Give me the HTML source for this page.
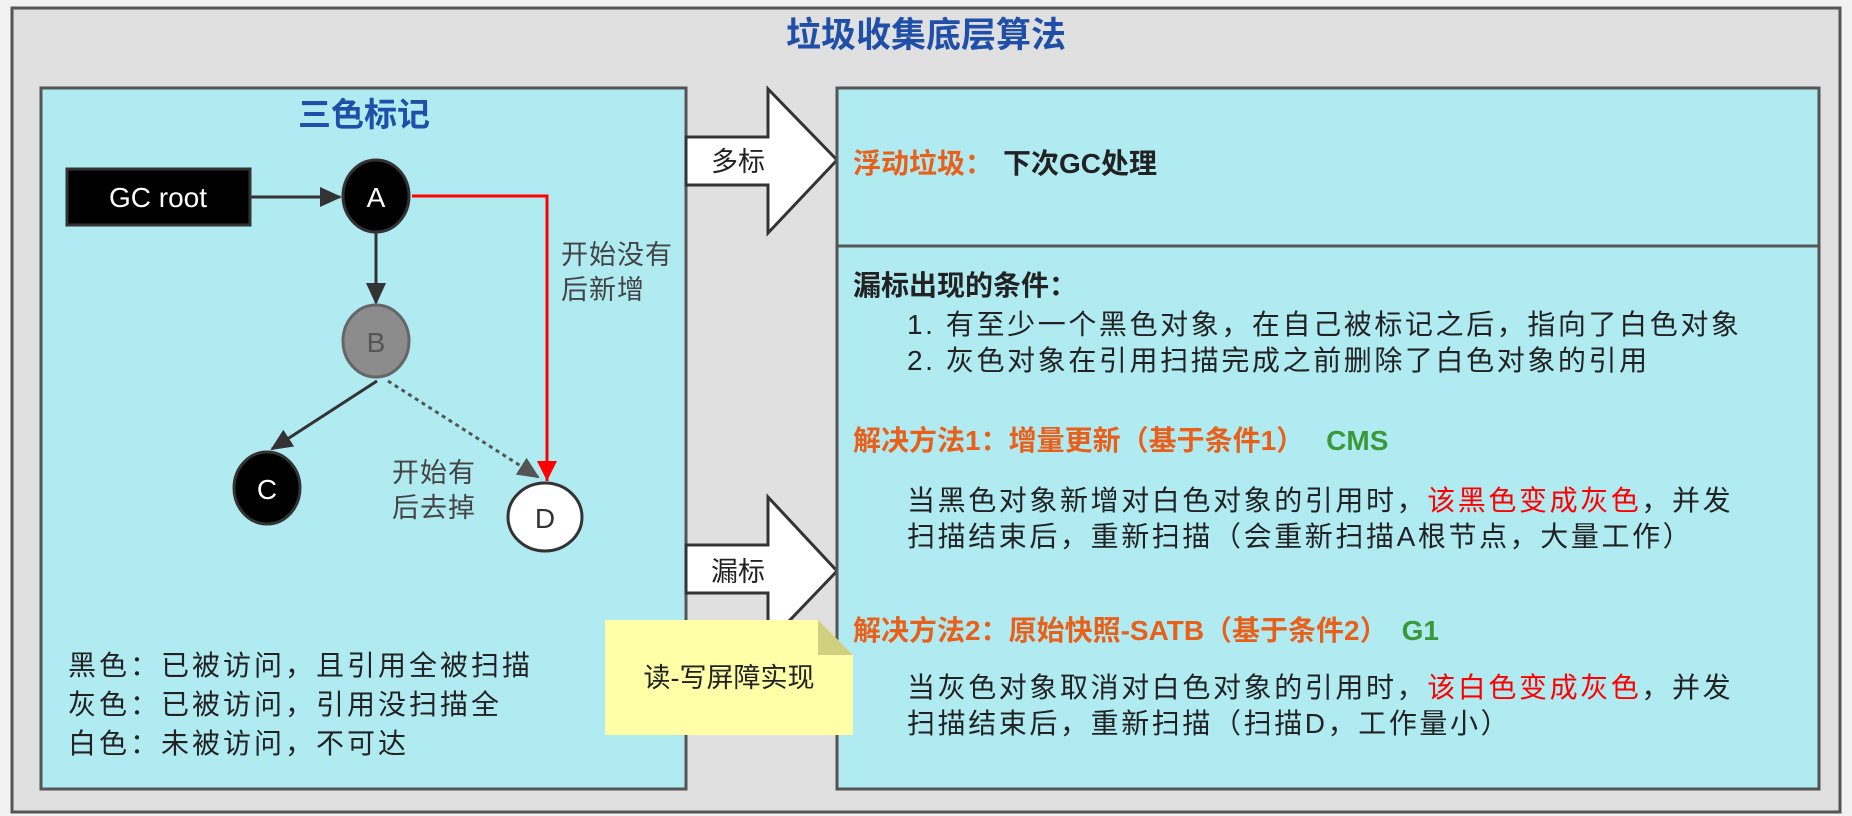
<!DOCTYPE html>
<html><head><meta charset="utf-8">
<style>
html,body{margin:0;padding:0;background:#f2f2f2;}
svg{display:block;}
text{font-family:"Liberation Sans","Noto Sans CJK SC",sans-serif;}
</style></head>
<body>
<svg width="1852" height="816" viewBox="0 0 1852 816" xmlns="http://www.w3.org/2000/svg">
<defs>
<marker id="ahb" markerWidth="22" markerHeight="20" refX="20" refY="10" orient="auto" markerUnits="userSpaceOnUse" viewBox="0 0 22 20">
<path d="M0,0 L22,10 L0,20 z" fill="#333"/></marker>
<marker id="ahg" markerWidth="22" markerHeight="20" refX="20" refY="10" orient="auto" markerUnits="userSpaceOnUse" viewBox="0 0 22 20">
<path d="M0,0 L22,10 L0,20 z" fill="#555"/></marker>
<marker id="ahrb" markerWidth="20" markerHeight="24" refX="20" refY="10" orient="auto" markerUnits="userSpaceOnUse" viewBox="0 0 20 20">
<path d="M0,0 L20,10 L0,20 z" fill="#ff0000"/></marker>
</defs>
<rect x="12" y="8" width="1828" height="804" fill="#e0e0e0" stroke="#555" stroke-width="3"/>
<text x="926" y="47" font-size="35" font-weight="bold" fill="#1f4fa8" text-anchor="middle">垃圾收集底层算法</text>

<rect x="41" y="88" width="645" height="701" fill="#b0ebf2" stroke="#555" stroke-width="3"/>
<text x="364" y="126" font-size="33" font-weight="bold" fill="#1f4fa8" text-anchor="middle">三色标记</text>

<rect x="67" y="169" width="183" height="56" fill="#000" stroke="#333" stroke-width="3"/>
<text x="158" y="207" font-size="28" fill="#fff" text-anchor="middle">GC root</text>

<line x1="250" y1="197" x2="340" y2="197" stroke="#333" stroke-width="3" marker-end="url(#ahb)"/>
<line x1="376" y1="233" x2="376" y2="303" stroke="#333" stroke-width="3" marker-end="url(#ahb)"/>
<line x1="377" y1="381" x2="272" y2="449" stroke="#333" stroke-width="3" marker-end="url(#ahb)"/>
<line x1="388" y1="381" x2="538" y2="477" stroke="#555" stroke-width="3" stroke-dasharray="4,4" marker-end="url(#ahg)"/>
<polyline points="412,196 547,196 547,481" fill="none" stroke="#ff0000" stroke-width="3" marker-end="url(#ahrb)"/>

<ellipse cx="376" cy="196" rx="33" ry="36" fill="#000" stroke="#333" stroke-width="3"/>
<text x="376" y="207" font-size="28" fill="#fff" text-anchor="middle">A</text>
<ellipse cx="376" cy="341" rx="33" ry="36" fill="#8c8c8c" stroke="#666" stroke-width="3"/>
<text x="376" y="352" font-size="28" fill="#555" text-anchor="middle">B</text>
<ellipse cx="267" cy="488" rx="33" ry="36" fill="#000" stroke="#333" stroke-width="3"/>
<text x="267" y="499" font-size="28" fill="#fff" text-anchor="middle">C</text>
<ellipse cx="545" cy="517" rx="37" ry="34" fill="#fff" stroke="#333" stroke-width="3"/>
<text x="545" y="528" font-size="28" fill="#333" text-anchor="middle">D</text>

<g font-size="27" fill="#444" letter-spacing="1">
<text x="561" y="264">开始没有</text>
<text x="561" y="299">后新增</text>
<text x="392" y="482">开始有</text>
<text x="392" y="517">后去掉</text>
</g>
<g font-size="28" fill="#222" letter-spacing="3">
<text x="68" y="675">黑色：已被访问，且引用全被扫描</text>
<text x="68" y="714">灰色：已被访问，引用没扫描全</text>
<text x="68" y="753">白色：未被访问，不可达</text>
</g>

<path d="M686,137 L768,137 L768,89 L837,160 L768,233 L768,185 L686,185 Z" fill="#fff" stroke="#333" stroke-width="3"/>
<text x="738" y="171" font-size="27" fill="#222" text-anchor="middle">多标</text>
<path d="M686,545 L768,545 L768,497 L837,571 L768,643 L768,593 L686,593 Z" fill="#fff" stroke="#333" stroke-width="3"/>
<text x="738" y="581" font-size="27" fill="#222" text-anchor="middle">漏标</text>

<rect x="837" y="88" width="982" height="701" fill="#b0ebf2" stroke="#555" stroke-width="3"/>
<line x1="837" y1="246" x2="1819" y2="246" stroke="#555" stroke-width="3"/>

<path d="M605,620 L818,620 L853,655 L853,735 L605,735 Z" fill="#ffffa8"/>
<path d="M818,620 L853,655 L818,655 Z" fill="#d0d080"/>
<text x="729" y="687" font-size="27" fill="#222" text-anchor="middle">读-写屏障实现</text>

<g font-size="28" font-weight="bold">
<text x="853" y="173"><tspan fill="#e8601a">浮动垃圾：</tspan><tspan fill="#222" dx="10">下次GC处理</tspan></text>
<text x="853" y="295" fill="#222">漏标出现的条件：</text>
<text x="907" y="334" fill="#222" font-weight="normal" letter-spacing="2.6">1. 有至少一个黑色对象，在自己被标记之后，指向了白色对象</text>
<text x="907" y="370" fill="#222" font-weight="normal" letter-spacing="2.6">2. 灰色对象在引用扫描完成之前删除了白色对象的引用</text>
<text x="853" y="450"><tspan fill="#e8601a">解决方法1：增量更新（基于条件1）</tspan><tspan fill="#3a9a3a" dx="22">CMS</tspan></text>
<text x="907" y="510" font-weight="normal" fill="#222" letter-spacing="2.6">当黑色对象新增对白色对象的引用时，<tspan fill="#ff0000">该黑色变成灰色</tspan>，并发</text>
<text x="907" y="546" font-weight="normal" fill="#222" letter-spacing="2.6">扫描结束后，重新扫描（会重新扫描A根节点，大量工作）</text>
<text x="853" y="640"><tspan fill="#e8601a">解决方法2：原始快照-SATB（基于条件2）</tspan><tspan fill="#3a9a3a" dx="14">G1</tspan></text>
<text x="907" y="697" font-weight="normal" fill="#222" letter-spacing="2.6">当灰色对象取消对白色对象的引用时，<tspan fill="#ff0000">该白色变成灰色</tspan>，并发</text>
<text x="907" y="733" font-weight="normal" fill="#222" letter-spacing="2.6">扫描结束后，重新扫描（扫描D，工作量小）</text>
</g>
</svg>
</body></html>
